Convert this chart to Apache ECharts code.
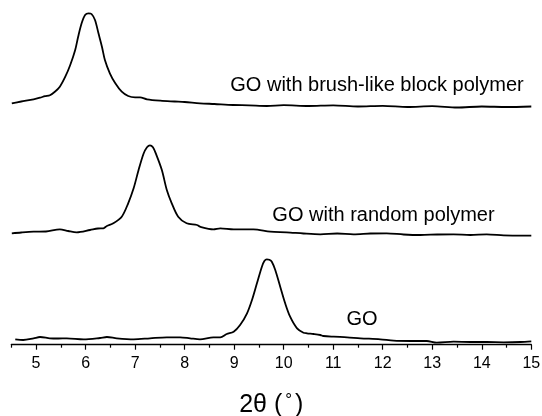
<!DOCTYPE html>
<html>
<head>
<meta charset="utf-8">
<script src="https://cdn.jsdelivr.net/npm/echarts@6/dist/echarts.min.js"></script>
<style>
html,body{margin:0;padding:0;background:#fff;}
#chart{width:542px;height:416px;}
</style>
</head>
<body>
<div id="chart"></div>
<script>
// 2θ positions and intensities (arbitrary units, curves offset vertically)
const brushX = [4.51,4.70,4.95,5.08,5.18,5.28,5.38,5.48,5.59,5.69,5.79,5.85,5.92,5.99,6.06,6.12,6.19,6.26,6.33,6.39,6.49,6.60,6.73,6.86,7.00,7.10,7.24,7.51,7.80,8.00,8.31,8.60,8.98,9.30,9.66,10.0,10.5,11.0,11.5,12.0,12.5,13.0,13.5,14.0,14.5,15.0];
const brushY = [241.4,243.2,245.4,247.0,248.5,249.5,253.0,258.0,268.0,279.7,294.7,308.0,321.4,329.7,331.4,330.7,324.7,311.4,298.0,284.7,271.4,261.4,253.0,248.7,247.4,247.4,245.4,244.0,243.2,242.7,241.4,240.7,239.7,239.4,238.7,239.6,238.7,239.4,238.2,238.9,237.7,238.6,237.2,238.2,237.7,238.2];

const randomX = [4.51,4.70,4.95,5.20,5.48,5.65,5.82,6.09,6.25,6.36,6.43,6.56,6.73,6.86,6.97,7.07,7.17,7.24,7.30,7.36,7.42,7.54,7.64,7.74,7.87,8.04,8.25,8.31,8.58,8.72,8.99,9.39,9.73,10.06,10.40,10.74,11.08,11.41,11.75,12.08,12.42,12.76,13.10,13.43,13.77,14.10,14.44,14.78,15.0];
const randomY = [111.4,112.2,113.0,113.2,115.4,113.7,112.4,114.7,116.2,116.4,118.7,121.4,128.0,141.4,156.4,174.7,191.0,197.5,199.4,197.5,191.0,174.7,154.7,141.4,128.0,121.4,119.7,118.0,115.4,116.4,115.4,115.4,113.0,112.4,111.2,110.4,111.2,110.4,111.2,111.4,110.2,109.7,110.2,110.4,109.7,110.4,109.4,109.0,109.0];

const goX = [4.58,4.74,4.95,5.08,5.28,5.45,5.62,5.96,6.29,6.43,6.63,6.97,7.30,7.64,7.91,8.11,8.31,8.58,8.72,8.85,8.99,9.12,9.26,9.36,9.46,9.56,9.61,9.66,9.71,9.76,9.83,9.93,10.03,10.13,10.27,10.40,10.47,10.60,10.74,10.80,11.01,11.28,11.55,11.95,12.22,12.56,12.89,13.09,13.43,13.77,14.10,14.44,14.78,15.0];
const goY = [5.4,4.7,6.4,7.7,6.4,6.2,6.4,5.4,6.7,7.7,6.4,5.4,6.4,7.4,7.4,6.4,5.4,7.4,7.4,10.7,13.0,19.7,31.4,44.7,61.4,78.0,83.7,85.4,84.9,83.0,74.7,58.0,41.4,28.0,16.4,12.0,11.4,10.7,9.7,8.7,8.0,7.4,6.4,5.4,4.0,3.7,3.7,2.0,3.0,2.7,2.7,2.4,2.7,3.4];

const majorTicks = [5,6,7,8,9,10,11,12,13,14,15];
const minorTicks = [4.5,5.5,6.5,7.5,8.5,9.5,10.5,11.5,12.5,13.5,14.5];
const curveLabels = ['GO with brush-like block polymer','GO with random polymer','GO'];

const FONT = "'Liberation Sans', Arial, Helvetica, sans-serif";
const zip = (xs, ys) => xs.map((x, i) => [x, ys[i]]);

const chart = echarts.init(document.getElementById('chart'), null, {renderer: 'canvas'});
const lineStyle = {color: '#000', width: 1.8};
const mkSeries = (name, xs, ys) => ({
  name, type: 'line', data: zip(xs, ys), showSymbol: false, symbol: 'none',
  smooth: 0.3, lineStyle, silent: true, animation: false, xAxisIndex: 0
});

chart.setOption({
  animation: false,
  backgroundColor: '#fff',
  grid: {left: 11.3, right: 10.7, top: 4.7, bottom: 71.3, containLabel: false, outerBoundsMode: 'none'},
  xAxis: [{
    type: 'value', min: 4.5, max: 15, position: 'bottom',
    axisLine: {show: true, lineStyle: {color: '#000', width: 1.3}},
    axisTick: {show: true, length: 5, lineStyle: {color: '#000', width: 1.2}, customValues: majorTicks},
    axisLabel: {show: true, customValues: majorTicks, color: '#000', fontSize: 16, fontFamily: FONT, margin: 11},
    splitLine: {show: false},
    name: '2θ ({s|°})',
    nameLocation: 'middle', nameGap: 47,
    nameTextStyle: {color: '#000', fontSize: 25, fontFamily: FONT,
      rich: {s: {fontSize: 17, fontFamily: FONT, color: '#000', padding: [0, 3, 9, 3]}}}
  }, {
    type: 'value', min: 4.5, max: 15, position: 'bottom', offset: 0,
    axisLine: {show: false},
    axisTick: {show: true, length: 3, lineStyle: {color: '#000', width: 1.2}, customValues: minorTicks},
    axisLabel: {show: false},
    splitLine: {show: false}
  }],
  yAxis: {type: 'value', min: 0, max: 340, show: false},
  series: [
    mkSeries(curveLabels[0], brushX, brushY),
    mkSeries(curveLabels[1], randomX, randomY),
    mkSeries(curveLabels[2], goX, goY)
  ],
  graphic: [
    {type: 'text', x: 377, y: 85, style: {text: curveLabels[0], fill: '#000', font: '20px ' + FONT, textAlign: 'center', textVerticalAlign: 'middle'}},
    {type: 'text', x: 383.5, y: 215.5, style: {text: curveLabels[1], fill: '#000', font: '20px ' + FONT, textAlign: 'center', textVerticalAlign: 'middle'}},
    {type: 'text', x: 362, y: 319, style: {text: curveLabels[2], fill: '#000', font: '20px ' + FONT, textAlign: 'center', textVerticalAlign: 'middle'}}
  ]
});
</script>
</body>
</html>
